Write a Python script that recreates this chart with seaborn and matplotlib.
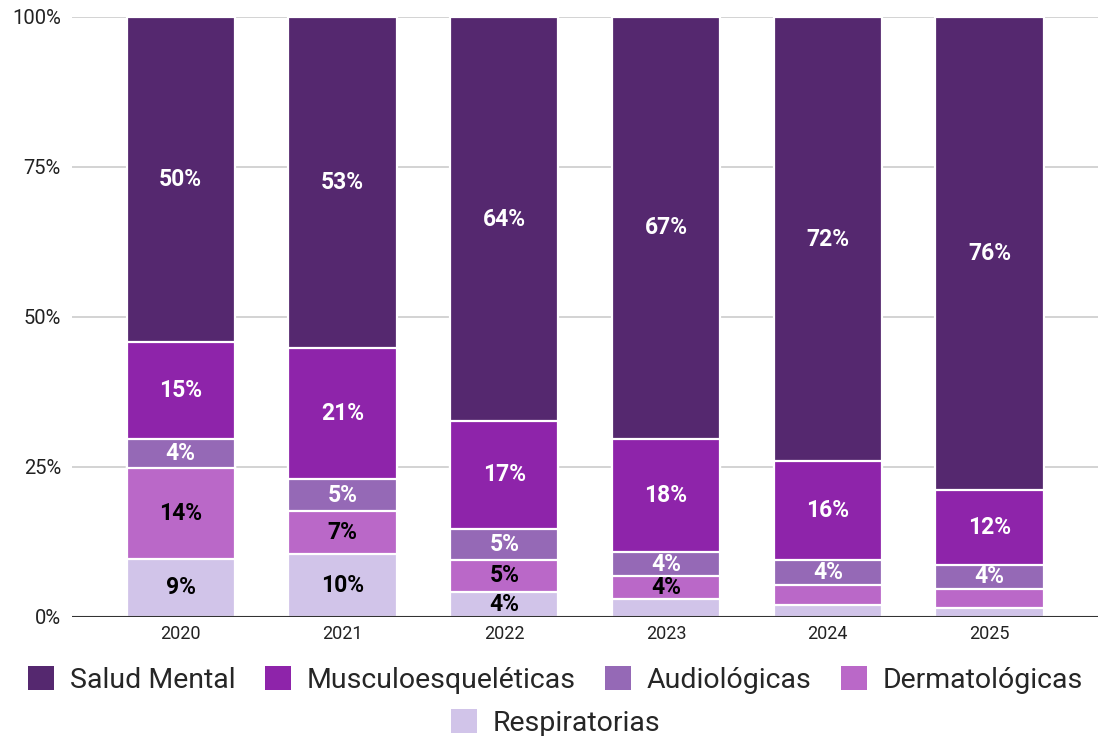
import numpy as np
import pandas as pd
import seaborn as sns
import matplotlib
matplotlib.use("Agg")
import matplotlib.pyplot as plt
from matplotlib.patches import Patch

years = ["2020", "2021", "2022", "2023", "2024", "2025"]
series = ["Salud Mental", "Musculoesqueléticas", "Audiológicas", "Dermatológicas", "Respiratorias"]
salud = [50, 53, 64, 67, 72, 76]
musc = [15, 21, 17, 18, 16, 12.1]
audio = [4.4, 5, 5, 3.8, 4, 3.9]
derm = [14, 7, 5, 3.6, 3.3, 3.0]
resp = [9, 10, 4, 2.9, 1.9, 1.5]
colors = ["#55286f", "#8e24aa", "#9569b6", "#ba68c8", "#d1c4e9"]
label_colors = ["white", "white", "white", "black", "black"]
yticks = [0, 25, 50, 75, 100]

sns.set_theme(style="white")
plt.rcParams["font.family"] = ["Roboto", "DejaVu Sans"]

vals = np.array([salud, musc, audio, derm, resp], dtype=float)
share = vals / vals.sum(axis=0) * 100
# stacking order bottom -> top: resp, derm, audio, musc, salud
bottom_up = share[::-1]
cum = np.cumsum(bottom_up, axis=0)

fig = plt.figure(figsize=(10.98, 7.36), dpi=100)
ax = fig.add_axes([0.0656, 0.1617, 0.9344, 0.8153])

for y in yticks:
    ax.axhline(y, color="#cccccc", lw=1.2, zorder=0)

# draw tallest cumulative first, smaller ones on top
for k in range(len(series) - 1, -1, -1):
    idx = len(series) - 1 - k  # series index
    df = pd.DataFrame({"year": years, "v": cum[k]})
    sns.barplot(data=df, x="year", y="v", color=colors[idx], width=0.67,
                edgecolor="white", linewidth=1.6, saturation=1, ax=ax, zorder=2)

for k in range(len(series)):
    idx = len(series) - 1 - k
    for i in range(len(years)):
        h = bottom_up[k, i]
        if h < 3.6:
            continue
        mid = cum[k, i] - h / 2
        ax.text(i, mid, f"{vals[idx, i]:.0f}%", ha="center", va="center",
                fontsize=16.5, fontweight="bold", color=label_colors[idx], zorder=5)

ax.axhline(0, color="#333333", lw=1.5, zorder=4)
ax.set_xlim(-0.672, 5.67)
ax.set_ylim(0, 100)
ax.set_yticks(yticks)
ax.set_yticklabels([f"{t}%" for t in yticks], fontsize=14.5, color="#222222")
ax.tick_params(axis="x", labelsize=13, colors="#222222", length=0, pad=6)
ax.tick_params(axis="y", length=0, pad=8)
ax.set_xlabel("")
ax.set_ylabel("")
for s in ax.spines.values():
    s.set_visible(False)

handles = [Patch(facecolor=c, edgecolor="none") for c in colors]
fig.legend(handles[:4], series[:4], loc="center", bbox_to_anchor=(0.506, 0.076),
           ncol=4, frameon=False, fontsize=20.5, handlelength=0.9, handleheight=0.9,
           handletextpad=0.55, columnspacing=1.05)
fig.legend(handles[4:], series[4:], loc="center", bbox_to_anchor=(0.506, 0.018),
           ncol=1, frameon=False, fontsize=20.5, handlelength=0.9, handleheight=0.9,
           handletextpad=0.55)

fig.savefig("out.png", dpi=100)
